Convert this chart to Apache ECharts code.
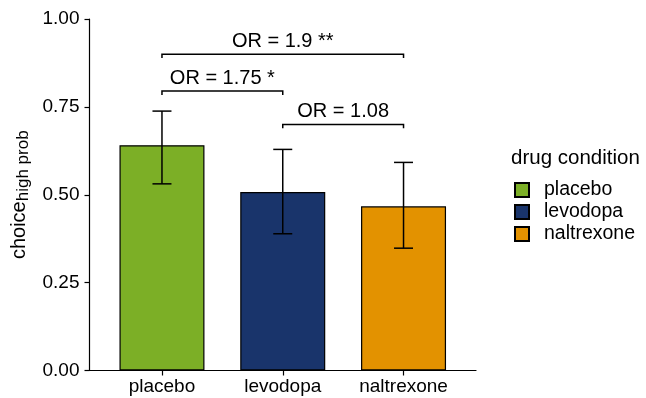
<!DOCTYPE html>
<html><head><meta charset="utf-8">
<script src="https://cdn.jsdelivr.net/npm/echarts@6/dist/echarts.min.js"></script>
<style>html,body{margin:0;padding:0;background:#fff}#c{width:646px;height:398px}</style>
</head><body><div id="c"></div>
<script>
const categories = ['placebo', 'levodopa', 'naltrexone'];
const meanValues = [0.641, 0.508, 0.467];
const lowerValues = [0.531, 0.389, 0.348];
const upperValues = [0.738, 0.629, 0.592];
const colors = ['#7CAF26', '#19346B', '#E39200'];
const yTicks = [0, 0.25, 0.5, 0.75, 1];
const bracketFrom = [1, 1, 2];
const bracketTo = [3, 2, 3];
const bracketY = [0.90, 0.795, 0.70];
const bracketLabels = ['OR = 1.9 **', 'OR = 1.75 *', 'OR = 1.08'];

const FONT = '"Liberation Sans", Arial, Helvetica, sans-serif';
const chart = echarts.init(document.getElementById('c'), null, {renderer: 'canvas'});

const barSeries = categories.map((name, i) => ({
  type: 'bar', name: name, barWidth: 85, barGap: '-100%',
  data: [[i + 1, meanValues[i]]],
  itemStyle: {color: colors[i], borderColor: '#000', borderWidth: 1.2},
  emphasis: {disabled: true}
}));

const errData = categories.map((c, i) => [i + 1, lowerValues[i], upperValues[i]]);
const bracketData = bracketLabels.map((l, i) => [bracketFrom[i], bracketTo[i], bracketY[i], l]);

chart.setOption({
  animation: false,
  textStyle: {fontFamily: FONT, color: '#000'},
  grid: {left: 89.5, right: 170, top: 19, bottom: 27.5, containLabel: false, outerBoundsMode: 'none'},
  title: {text: 'drug condition', left: 511, top: 148, padding: 0,
    textStyle: {fontFamily: FONT, fontSize: 20.5, fontWeight: 'normal', color: '#000'}},
  legend: {
    orient: 'vertical', left: 514, top: 180, padding: 0,
    icon: 'rect', itemWidth: 14, itemHeight: 14, itemGap: 2,
    data: categories,
    textStyle: {fontFamily: FONT, fontSize: 19.5, color: '#000', padding: [0, 0, 0, 10]},
    selectedMode: false
  },
  xAxis: {
    type: 'value', min: 0.4, max: 3.6,
    splitLine: {show: false},
    axisLine: {show: true, onZero: false, lineStyle: {color: '#000', width: 1.2}},
    axisTick: {show: true, customValues: [1, 2, 3], length: 5, lineStyle: {color: '#000', width: 1.2}},
    axisLabel: {customValues: [1, 2, 3], formatter: v => categories[Math.round(v) - 1] || '',
      fontFamily: FONT, fontSize: 19, color: '#000', margin: 7}
  },
  yAxis: {
    type: 'value', min: 0, max: 1, interval: 0.25,
    splitLine: {show: false},
    axisLine: {show: true, lineStyle: {color: '#000', width: 1.2}},
    axisTick: {show: true, length: 5, lineStyle: {color: '#000', width: 1.2}},
    axisLabel: {formatter: v => v.toFixed(2), fontFamily: FONT, fontSize: 19, color: '#000', margin: 10},
    name: '{a|choice}{s|high prob}', nameLocation: 'middle', nameGap: 53,
    nameTextStyle: {color: '#000', rich: {
      a: {fontFamily: FONT, fontSize: 20, color: '#000', verticalAlign: 'top', lineHeight: 22},
      s: {fontFamily: FONT, fontSize: 17, color: '#000', verticalAlign: 'bottom', lineHeight: 20, padding: [8, 0, 0, 0]}
    }}
  },
  series: [
    ...barSeries,
    {
      type: 'custom', name: 'err', data: errData, z: 5,
      renderItem: (params, api) => {
        const x = api.value(0);
        const lo = api.coord([x, api.value(1)]);
        const hi = api.coord([x, api.value(2)]);
        const hw = 9.5;
        const st = {stroke: '#000', lineWidth: 1.5};
        return {type: 'group', children: [
          {type: 'line', shape: {x1: lo[0], y1: lo[1], x2: hi[0], y2: hi[1]}, style: st},
          {type: 'line', shape: {x1: hi[0] - hw, y1: hi[1], x2: hi[0] + hw, y2: hi[1]}, style: st},
          {type: 'line', shape: {x1: lo[0] - hw, y1: lo[1], x2: lo[0] + hw, y2: lo[1]}, style: st}
        ]};
      }
    },
    {
      type: 'custom', name: 'brackets', data: bracketData, z: 5,
      encode: {x: [0, 1], y: 2},
      renderItem: (params, api) => {
        const y = api.value(2);
        const p1 = api.coord([api.value(0), y]);
        const p2 = api.coord([api.value(1), y]);
        const p1d = api.coord([api.value(0), y - 0.011]);
        const label = bracketData[params.dataIndex][3];
        return {type: 'group', children: [
          {type: 'polyline', shape: {points: [[p1[0], p1d[1]], p1, p2, [p2[0], p1d[1]]]},
            style: {stroke: '#000', lineWidth: 1.5, fill: null}},
          {type: 'text', style: {text: label, x: (p1[0] + p2[0]) / 2, y: p1[1] - 3,
            textAlign: 'center', textVerticalAlign: 'bottom',
            font: '20px ' + FONT, fill: '#000'}}
        ]};
      }
    }
  ]
});
</script></body></html>
